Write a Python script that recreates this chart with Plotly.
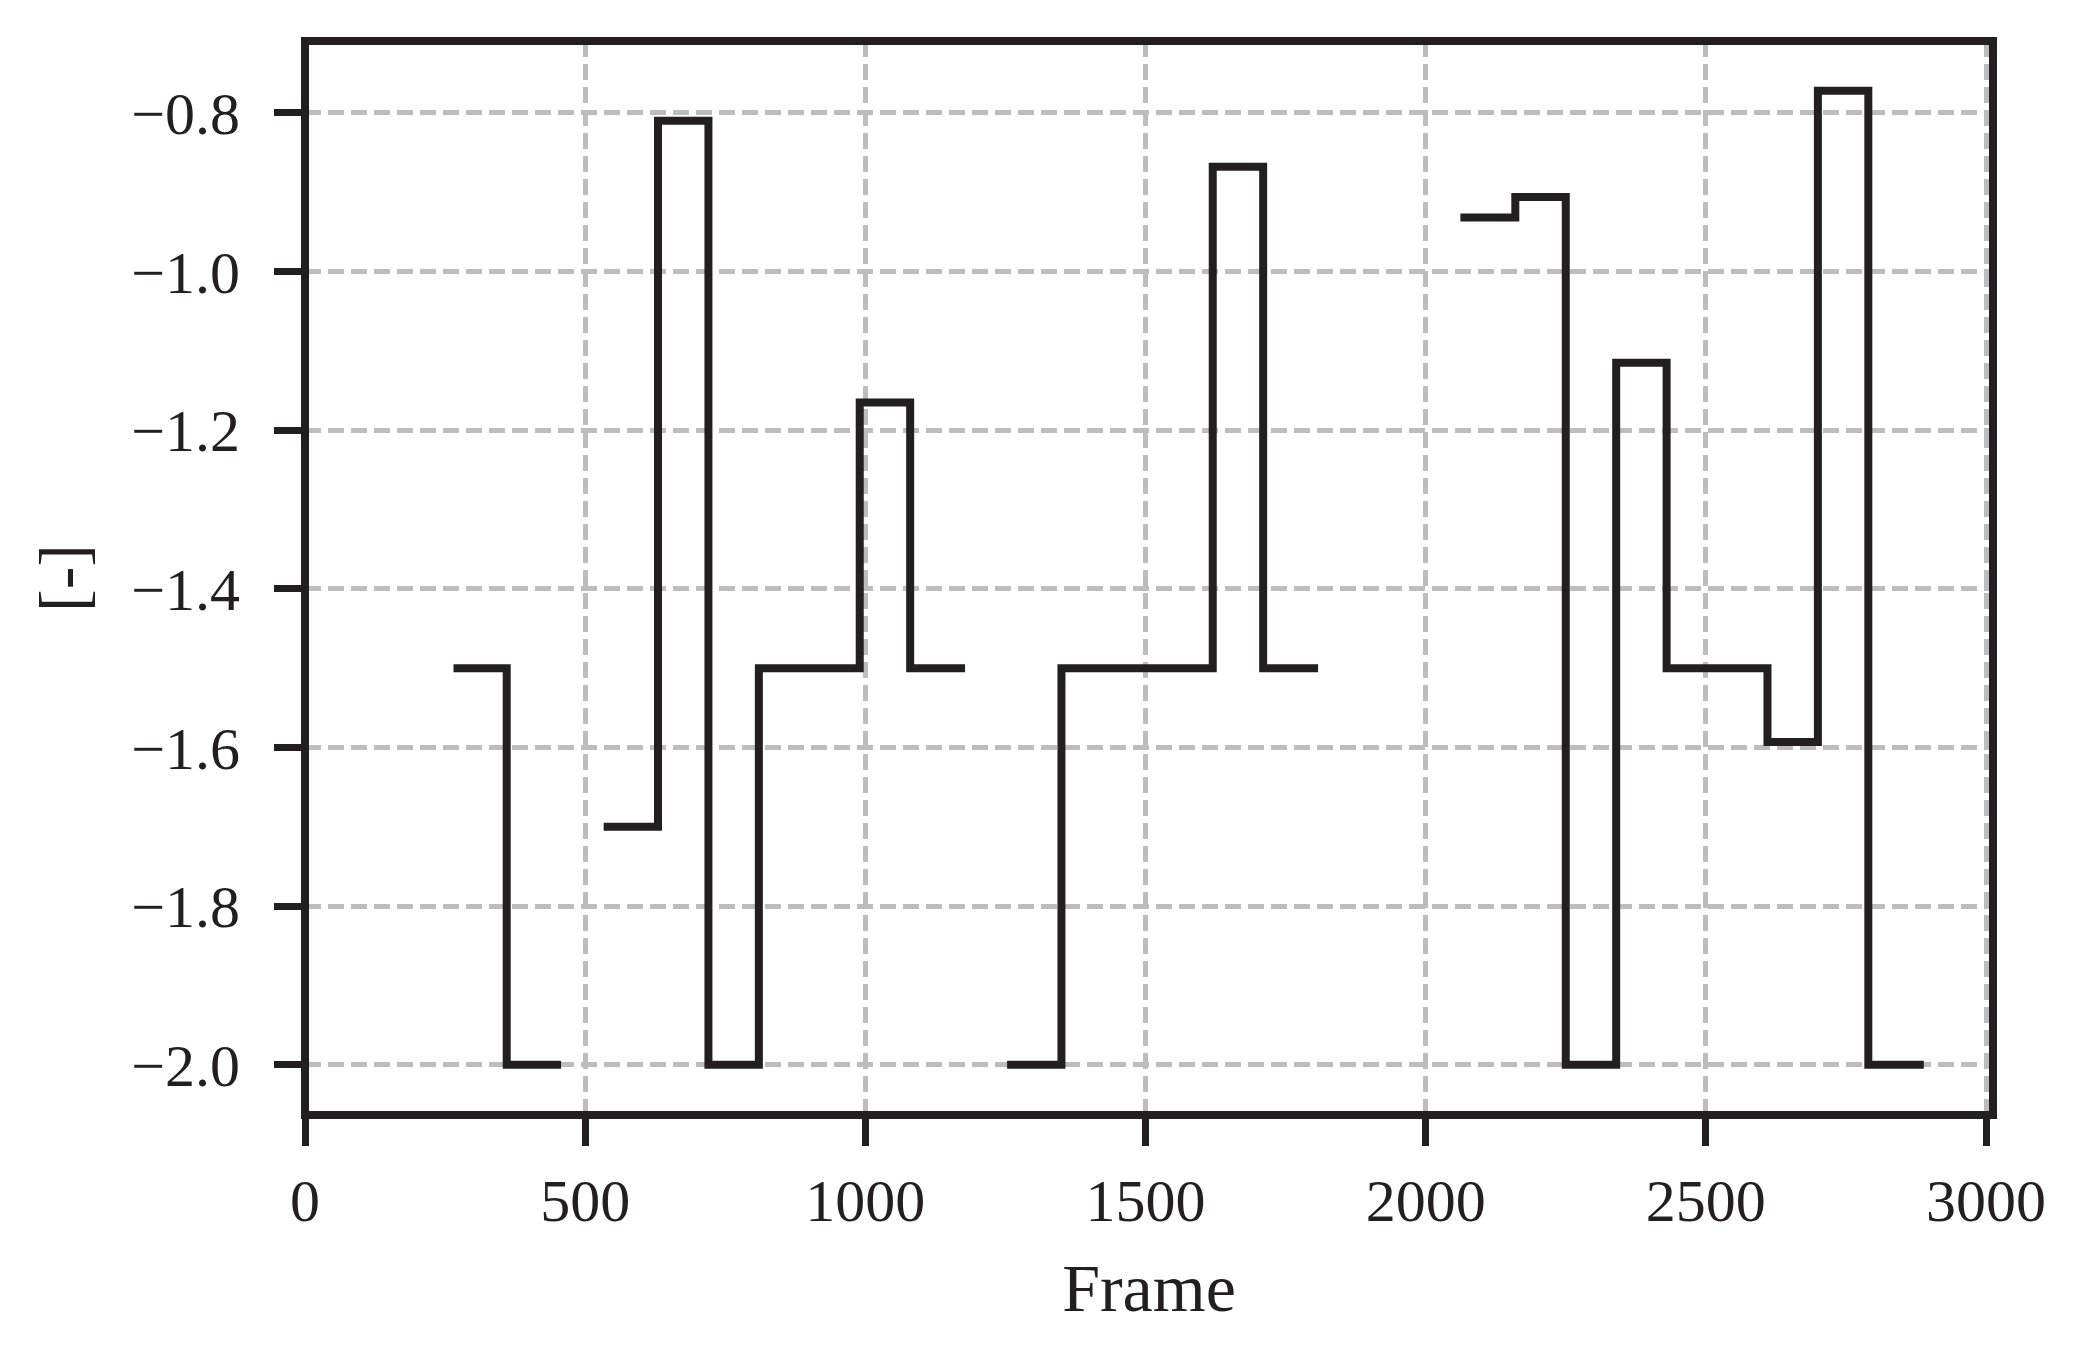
import plotly.graph_objects as go

# Step-wise series, split into four separate runs (gaps between them)
frames_a = [265, 360, 457]
values_a = [-1.5, -2.0, -2.0]

frames_b = [533, 630, 720, 810, 900, 990, 1080, 1178]
values_b = [-1.7, -0.81, -2.0, -1.5, -1.5, -1.165, -1.5, -1.5]

frames_c = [1253, 1350, 1440, 1530, 1620, 1710, 1808]
values_c = [-2.0, -1.5, -1.5, -1.5, -0.868, -1.5, -1.5]

frames_d = [2062, 2160, 2250, 2340, 2430, 2520, 2610, 2700, 2790, 2889]
values_d = [-0.932, -0.906, -2.0, -1.115, -1.5, -1.5, -1.593, -0.772, -2.0, -2.0]

x_ticks = [0, 500, 1000, 1500, 2000, 2500, 3000]
x_tick_labels = ["0", "500", "1000", "1500", "2000", "2500", "3000"]
y_ticks = [-2.0, -1.8, -1.6, -1.4, -1.2, -1.0, -0.8]
y_tick_labels = ["\u22122.0", "\u22121.8", "\u22121.6", "\u22121.4", "\u22121.2", "\u22121.0", "\u22120.8"]

x_all, y_all = [], []
for fx, fy in [(frames_a, values_a), (frames_b, values_b), (frames_c, values_c), (frames_d, values_d)]:
    x_all += fx + [None]
    y_all += fy + [None]

INK = "#231f20"
GRID = "#bdbdc0"
FONT = "Liberation Serif"

fig = go.Figure()
fig.add_trace(go.Scatter(
    x=x_all, y=y_all, mode="lines", line_shape="hv",
    line=dict(color=INK, width=8), connectgaps=False,
    showlegend=False, hoverinfo="skip",
))

# page body adds an 8px offset; figure sized to fill the window exactly
fig.update_layout(
    width=2074, height=1340,
    margin=dict(l=296.5, r=89.3, t=33, b=233, autoexpand=False),
    paper_bgcolor="white", plot_bgcolor="white",
    font=dict(family=FONT, color=INK, size=60),
    showlegend=False,
    shapes=[dict(type="rect", xref="paper", yref="paper", x0=0, x1=1, y0=0, y1=1,
                 line=dict(color=INK, width=8), layer="above")],
)

fig.update_xaxes(
    range=[0, 3012.5],
    tickvals=x_ticks, ticktext=x_tick_labels,
    showline=False,
    ticks="outside", ticklen=30, tickwidth=7, tickcolor=INK,
    ticklabelstandoff=3,
    tickfont=dict(family=FONT, size=60, color=INK),
    showgrid=True, gridcolor=GRID, gridwidth=4.5, griddash="16px,7px",
    zeroline=False,
    title=dict(text="Frame", font=dict(family=FONT, size=68, color=INK), standoff=30),
)
fig.update_yaxes(
    range=[-2.0632, -0.7094],
    tickvals=y_ticks, ticktext=y_tick_labels,
    showline=False,
    ticks="outside", ticklen=30, tickwidth=7, tickcolor=INK,
    ticklabelstandoff=22,
    tickfont=dict(family=FONT, size=60, color=INK),
    showgrid=True, gridcolor=GRID, gridwidth=4.5, griddash="16px,7px",
    zeroline=False,
    title=dict(text="[-]", font=dict(family=FONT, size=68, color=INK), standoff=22),
)

fig.write_html("out.html")
